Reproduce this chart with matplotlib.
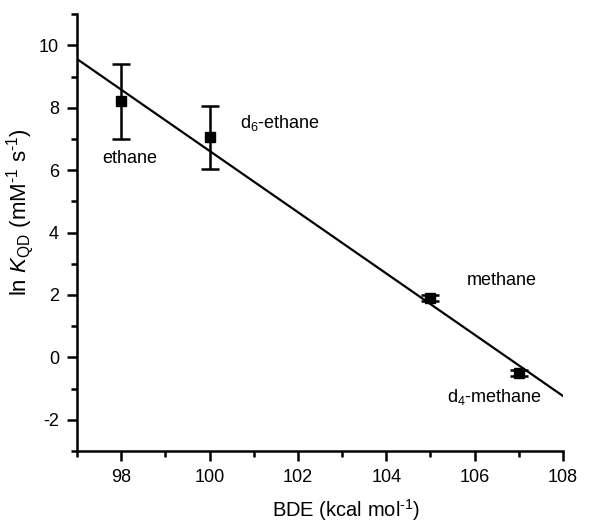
import numpy as np
import matplotlib
matplotlib.use("Agg")
import matplotlib.pyplot as plt
from matplotlib.ticker import MultipleLocator

plt.rcParams['font.family'] = ['Liberation Sans', 'DejaVu Sans']
plt.rcParams['mathtext.fontset'] = 'custom'
plt.rcParams['mathtext.rm'] = 'Liberation Sans'
plt.rcParams['mathtext.it'] = 'Liberation Sans:italic'
plt.rcParams['axes.unicode_minus'] = False

# Data
names = ["ethane", "d$_6$-ethane", "methane", "d$_4$-methane"]
bde = [98, 100, 105, 107]
lnk = [8.2, 7.05, 1.9, -0.5]
err = [1.2, 1.0, 0.1, 0.1]
label_x = [98.2, 100.7, 105.82, 105.37]
label_y = [6.38, 7.5, 2.47, -1.28]
label_ha = ["center", "left", "left", "left"]

fig = plt.figure(figsize=(6.09, 5.22), dpi=100)
ax = fig.add_axes([0.1264, 0.136, 0.798, 0.837])

slope, intercept = np.polyfit(bde, lnk, 1)
xl = np.array([97, 108])
ax.plot(xl, slope * xl + intercept, color='black', lw=1.6, zorder=2)

ax.errorbar(bde, lnk, yerr=err, fmt='s', color='black', ms=7.5,
            elinewidth=1.8, capsize=6.5, capthick=1.8, zorder=3)

for n, x, y, ha in zip(names, label_x, label_y, label_ha):
    ax.text(x, y, n, ha=ha, va='center', fontsize=13)

ax.set_xlim(97, 108)
ax.set_ylim(-3, 11)
ax.xaxis.set_major_locator(MultipleLocator(2))
ax.xaxis.set_minor_locator(MultipleLocator(1))
ax.yaxis.set_major_locator(MultipleLocator(2))
ax.yaxis.set_minor_locator(MultipleLocator(1))
ax.set_xticks([98, 100, 102, 104, 106, 108])
ax.set_yticks([-2, 0, 2, 4, 6, 8, 10])

for s in ['top', 'right']:
    ax.spines[s].set_visible(False)
for s in ['left', 'bottom']:
    ax.spines[s].set_linewidth(1.8)
ax.tick_params(which='major', direction='out', length=7, width=1.8, labelsize=13, pad=6)
ax.tick_params(which='minor', direction='out', length=4, width=1.8)

ax.set_xlabel("BDE (kcal mol$^{\\text{-}1}$)", fontsize=14.5)
ax.set_ylabel("ln $K$$_{\\mathrm{QD}}$ (mM$^{\\text{-}1}$ s$^{\\text{-}1}$)", fontsize=16)
ax.xaxis.set_label_coords(0.553, -0.105)
ax.yaxis.set_label_coords(-0.084, 0.547)

fig.savefig("out.png", dpi=100)
